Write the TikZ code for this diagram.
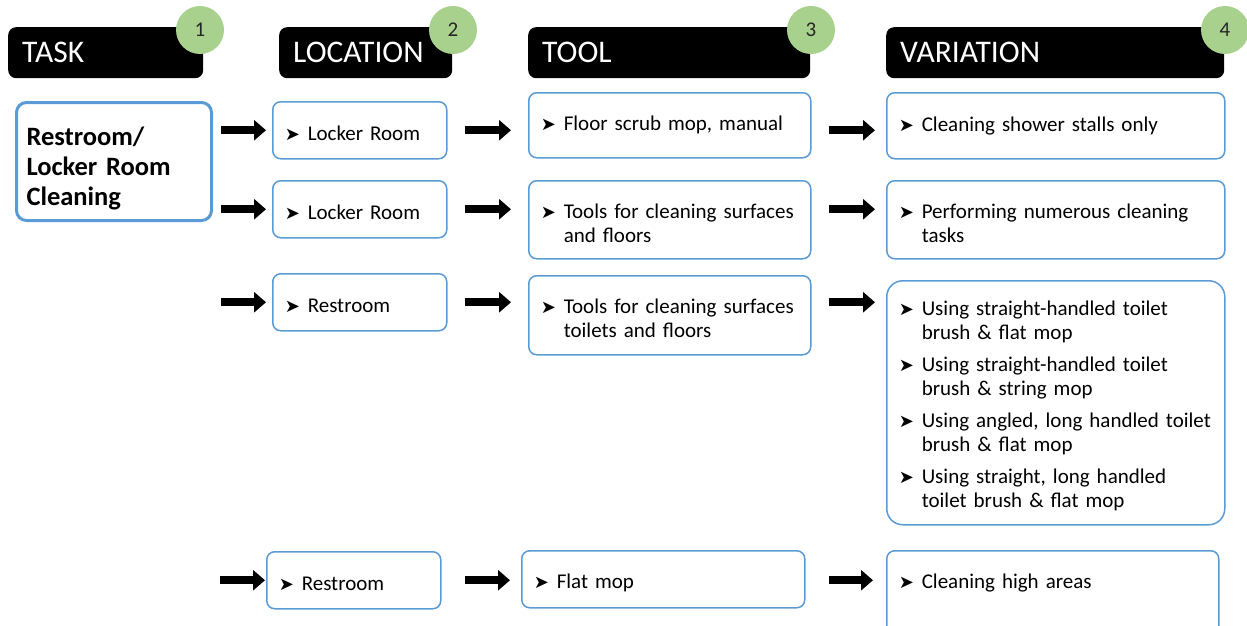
\documentclass[tikz,border=0pt]{standalone}
\usepackage{fontspec}
\setmainfont{Carlito}
\newfontfamily\symfont{DejaVu Sans}
\usetikzlibrary{arrows.meta}
\definecolor{boxblue}{RGB}{91,155,213}
\definecolor{numgreen}{RGB}{169,209,142}
\newcommand{\bul}{{\symfont\fontsize{18}{18}\selectfont\char"27A4}}
\newcommand{\itmb}[1]{\noindent\hangindent=23pt\hangafter=1\makebox[23pt][l]{\bul}#1\par}
\newcommand{\itm}[1]{\noindent\rule{0pt}{21pt}\itmb{#1}}
\tikzset{
  hdr/.style={fill=black, rounded corners=8pt, text=white, anchor=north west,
    inner xsep=14pt, inner ysep=0pt, align=left, minimum height=51pt,
    font=\fontsize{31.5}{36}\selectfont},
  num/.style={circle, fill=numgreen, minimum size=48pt, inner sep=0pt,
    text=black!85, font=\fontsize{21}{24}\selectfont},
  itembox/.style={draw=boxblue, line width=1.5pt, rounded corners=8pt, anchor=north west,
    inner xsep=12pt, inner ysep=4pt, align=left, font=\fontsize{21}{24}\selectfont},
  taskbox/.style={draw=boxblue, line width=3pt, rounded corners=10pt, anchor=north west,
    inner xsep=10pt, align=left, font=\bfseries\fontsize{26.5}{30}\selectfont},
  bigarrow/.style={-{Triangle[length=12pt,width=20pt]}, line width=8pt}
}
\begin{document}
\begin{tikzpicture}[x=1pt,y=-1pt]
\useasboundingbox (0,0) rectangle (1247,626);
\clip (0,0) rectangle (1247,626);
% column headers
\node[hdr, text width=167pt] (h1) at (8,27) {TASK};
\node[hdr, text width=145pt] (h2) at (279,27) {LOCATION};
\node[hdr, text width=254pt] (h3) at (528,27) {TOOL};
\node[hdr, text width=310pt] (h4) at (886,27) {VARIATION};
\foreach \n/\x in {1/200,2/453,3/811,4/1225}
  \node[num] (n\n) at (\x,30) {\n};
% task
\node[taskbox, text width=175pt, text height=31pt, text depth=64pt, inner ysep=11.5pt] (task) at (15,101)
  {Restroom/\\Locker Room\\Cleaning};
% locations
\node[itembox, text width=150pt, minimum height=57pt] (L1) at (272,101) {\itm{Locker Room}};
\node[itembox, text width=150pt, minimum height=57pt] (L2) at (272,180) {\itm{Locker Room}};
\node[itembox, text width=150pt, minimum height=57pt] (L3) at (272,273) {\itm{Restroom}};
\node[itembox, text width=150pt, minimum height=57pt] (L4) at (266,551) {\itm{Restroom}};
% tools
\node[itembox, text width=258pt, minimum height=65pt] (T1) at (528,92) {\itmb{Floor scrub mop, manual}};
\node[itembox, text width=258pt, minimum height=78pt] (T2) at (528,180)
  {\itm{Tools for cleaning surfaces\newline and floors}};
\node[itembox, text width=258pt, minimum height=79pt] (T3) at (528,275)
  {\itm{Tools for cleaning surfaces\newline toilets and floors}};
\node[itembox, text width=259pt, minimum height=57pt] (T4) at (521,550) {\itm{Flat mop}};
% variations
\node[itembox, text width=314pt, minimum height=66pt] (V1) at (886,92) {\itmb{Cleaning shower stalls only}};
\node[itembox, text width=314pt, minimum height=78pt] (V2) at (886,180)
  {\itm{Performing numerous cleaning\newline tasks}};
\node[itembox, text width=314pt, minimum height=244pt, rounded corners=16pt] (V3) at (886,280)
  {\itm{Using straight-handled toilet\newline brush \& flat mop}\vskip8pt
   \itmb{Using straight-handled toilet\newline brush \& string mop}\vskip8pt
   \itmb{Using angled, long handled toilet\newline brush \& flat mop}\vskip8pt
   \itmb{Using straight, long handled\newline toilet brush \& flat mop}};
\node[itembox, text width=308pt, text height=30pt, text depth=70pt, inner ysep=8pt] (V4) at (886,550)
  {\itmb{Cleaning high areas}};
% arrows
\foreach \r in {1,2,3}{
  \draw[bigarrow, shorten <=8pt, shorten >=6pt] (task.east |- L\r) -- (L\r.west);
  \draw[bigarrow, shorten <=17pt, shorten >=17pt] (L\r.east) -- (L\r.east -| T\r.west);
  \draw[bigarrow, shorten <=17pt, shorten >=11pt] (T\r.east |- L\r) -- (L\r -| V\r.west);
}
\draw[bigarrow, shorten <=7pt, shorten >=1pt] (task.east |- L4) -- (L4.west);
\draw[bigarrow, shorten <=23pt, shorten >=11pt] (L4.east) -- (L4.east -| T4.west);
\draw[bigarrow, shorten <=23pt, shorten >=13pt] (T4.east |- L4) -- (L4 -| V4.west);
\end{tikzpicture}
\end{document}
